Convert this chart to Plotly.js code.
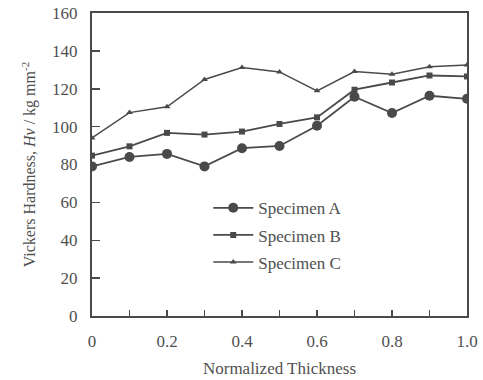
<!DOCTYPE html>
<html>
<head>
<meta charset="utf-8">
<script src="https://cdn.plot.ly/plotly-3.0.1.min.js"></script>
<style>html,body{margin:0;padding:0;background:#fff;}#chart{width:483px;height:380px;}</style>
</head>
<body>
<div id="chart"></div>
<script>
const thickness = [0, 0.1, 0.2, 0.3, 0.4, 0.5, 0.6, 0.7, 0.8, 0.9, 1.0];
const specimenA = [79, 84, 85.6, 79, 88.6, 89.8, 100.5, 115.8, 107.2, 116.3, 114.7];
const specimenB = [84.7, 89.6, 96.7, 95.8, 97.4, 101.4, 104.9, 119.5, 123.3, 127, 126.5];
const specimenC = [94, 107.4, 110.5, 124.9, 131.2, 128.9, 118.9, 129.1, 127.7, 131.6, 132.6];
const seriesNames = ['Specimen A', 'Specimen B', 'Specimen C'];
const xTickVals = [0, 0.1, 0.2, 0.3, 0.4, 0.5, 0.6, 0.7, 0.8, 0.9, 1.0];
const xTickText = ['0', '', '0.2', '', '0.4', '', '0.6', '', '0.8', '', '1.0'];
const yTickVals = [0, 20, 40, 60, 80, 100, 120, 140, 160];

const lineCol = '#4a4a4a';
const textCol = '#505050';
const font = 'Times New Roman, Liberation Serif, serif';

const traces = [
  {x: thickness, y: specimenA, name: seriesNames[0], legendgroup: 'a', mode: 'lines+markers',
   line: {color: lineCol, width: 1.8}, marker: {symbol: 'circle', size: 10, color: lineCol}},
  {x: thickness, y: specimenB, name: seriesNames[1], legendgroup: 'b', mode: 'lines+markers',
   line: {color: lineCol, width: 1.8}, marker: {symbol: 'square', size: 6, color: lineCol}},
  {x: thickness, y: specimenC, name: seriesNames[2], legendgroup: 'c', mode: 'lines+markers',
   line: {color: lineCol, width: 1.5}, marker: {symbol: 'triangle-up', size: 6, color: lineCol}}
];

const layout = {
  width: 483, height: 380,
  margin: {l: 92, r: 16, t: 13, b: 64},
  paper_bgcolor: '#fff', plot_bgcolor: '#fff',
  font: {family: font, color: textCol, size: 16},
  showlegend: true,
  legend: {x: 0.31, y: 0.415, xanchor: 'left', yanchor: 'top', bgcolor: 'rgba(0,0,0,0)',
           font: {family: font, size: 17, color: textCol}, tracegroupgap: 2, itemwidth: 40},
  xaxis: {
    range: [0, 1.0], showgrid: false, zeroline: false,
    showline: true, linecolor: lineCol, linewidth: 2, mirror: true,
    ticks: 'inside', ticklen: 6, tickwidth: 1.5, tickcolor: lineCol,
    tickvals: xTickVals,
    ticktext: xTickText,
    ticklabelstandoff: 9,
    tickfont: {family: font, size: 17, color: textCol},
    title: {text: 'Normalized Thickness', font: {family: font, size: 17, color: textCol}, standoff: 12}
  },
  yaxis: {
    range: [0, 160], showgrid: false, zeroline: false,
    showline: true, linecolor: lineCol, linewidth: 2, mirror: true,
    ticks: 'inside', ticklen: 8, tickwidth: 1.5, tickcolor: lineCol,
    tickvals: yTickVals,
    ticklabelstandoff: 9,
    tickfont: {family: font, size: 17, color: textCol},
    title: {text: 'Vickers Hardness, <i>Hv</i> / kg mm<sup>-2</sup>', font: {family: font, size: 16, color: textCol}, standoff: 12}
  }
};

Plotly.newPlot('chart', traces, layout, {displayModeBar: false, staticPlot: true});
</script>
</body>
</html>
